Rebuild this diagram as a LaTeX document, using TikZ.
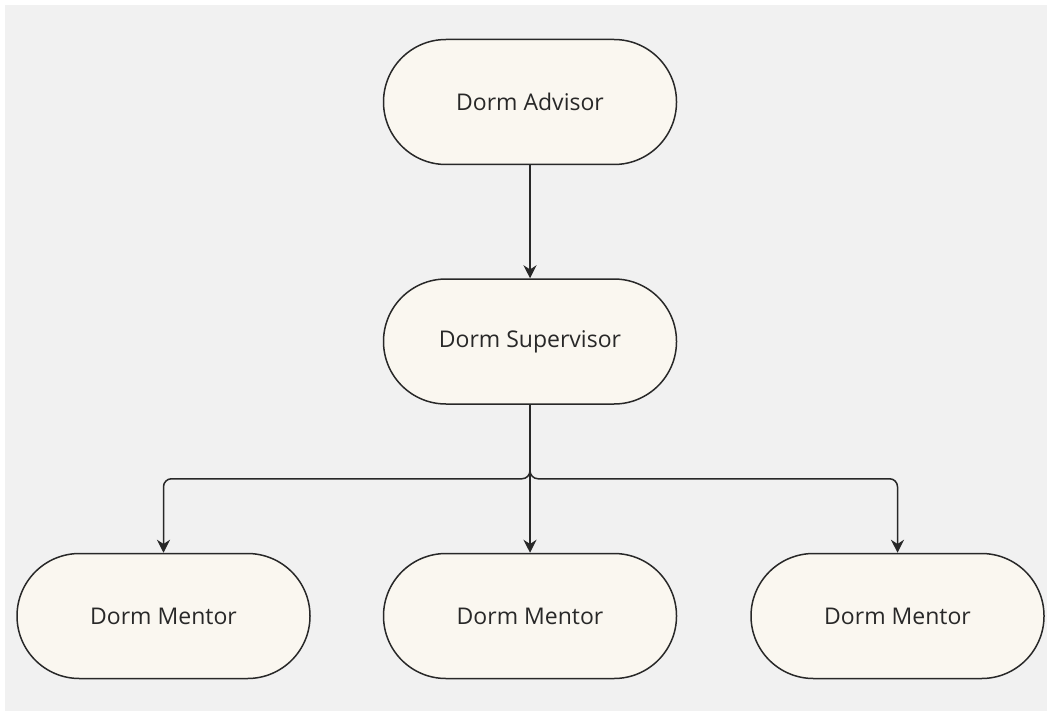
\documentclass[tikz,border=0pt]{standalone}
\usepackage{fontspec}
\setmainfont{Open Sans}
\usetikzlibrary{positioning,arrows.meta}
\definecolor{pillfill}{RGB}{250, 247, 240}
\definecolor{canvas}{RGB}{241, 241, 241}
\definecolor{ink}{RGB}{40, 40, 40}
\newcommand{\pill}[3]{
    \node(#1)[
        draw=ink,
        line width=0.75pt,
        rounded corners=31.25pt,
        minimum width=146.5pt,
        minimum height=62.5pt,
        %text centered,
        align=center,
        fill=pillfill,
        text=ink,
        font=\fontsize{11.5}{13}\selectfont,
        #2
    ]{#3};
}
\begin{document}
\begin{tikzpicture}[x=1pt, y=1pt, >={Stealth[length=6.5pt,width=6.5pt]}]
	\useasboundingbox (0,0) rectangle (523.5,-355.5);
	\fill[white] (0,0) rectangle (523.5,-355.5);
	\fill[canvas] (2.5,-2.5) rectangle (523.5,-355.5);

	\pill{advisor}{at={(265,-51)}}{Dorm Advisor}
	\pill{supervisor}{below=56.5pt of advisor}{Dorm Supervisor}

	\pill{mentor mid}{below=74pt of supervisor}{Dorm Mentor}
	\pill{mentor left}{left=36pt of mentor mid}{Dorm Mentor}
	\pill{mentor right}{right=36.5pt of mentor mid}{Dorm Mentor}

	\draw[->, line width=0.75pt, color=ink] (advisor) -- (supervisor);

	\draw[->, line width=0.75pt, color=ink] (supervisor) -- (mentor mid);
	\draw[->, line width=0.75pt, color=ink, rounded corners=4pt] (supervisor.south) -- ++(0,-37) -| (mentor left.north);
	\draw[->, line width=0.75pt, color=ink, rounded corners=4pt] (supervisor.south) -- ++(0,-37) -| (mentor right.north);
\end{tikzpicture}
\end{document}
